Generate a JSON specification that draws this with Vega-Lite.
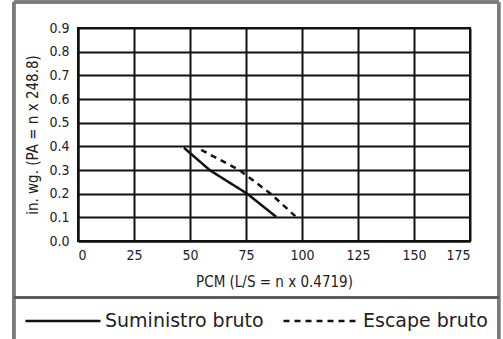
{
  "$schema": "https://vega.github.io/schema/vega-lite/v6.json",
  "width": 392,
  "height": 213,
  "autosize": {"type": "none"},
  "padding": {"left": 78, "top": 28, "right": 33, "bottom": 98},
  "background": "white",
  "config": {
    "view": {"stroke": "#111", "strokeWidth": 2},
    "font": "DejaVu Sans Condensed",
    "axis": {
      "titleFont": "DejaVu Sans Condensed", "titleFontSize": 15, "titleFontWeight": "normal", "titleColor": "#222",
      "labelFont": "DejaVu Sans Condensed", "labelFontSize": 14, "labelColor": "#222",
      "labelOverlap": false,
      "ticks": false, "domainColor": "#111", "domainWidth": 2,
      "grid": true, "gridColor": "#111", "gridWidth": 2, "gridOpacity": 1
    },
    "axisX": {"titlePadding": 12, "labelPadding": 7},
    "axisY": {"titlePadding": 8, "labelPadding": 9}
  },
  "data": {
    "values": [
      {"series": "Suministro bruto", "pcm": 47.3, "inwg": 0.394},
      {"series": "Suministro bruto", "pcm": 59, "inwg": 0.298},
      {"series": "Suministro bruto", "pcm": 75.5, "inwg": 0.2},
      {"series": "Suministro bruto", "pcm": 88.5, "inwg": 0.102},
      {"series": "Escape bruto", "pcm": 55, "inwg": 0.385},
      {"series": "Escape bruto", "pcm": 72, "inwg": 0.3},
      {"series": "Escape bruto", "pcm": 86, "inwg": 0.2},
      {"series": "Escape bruto", "pcm": 97, "inwg": 0.105}
    ]
  },
  "layer": [
    {
      "mark": {"type": "line", "color": "#111", "strokeWidth": 2.5},
      "encoding": {
        "x": {
          "field": "pcm", "type": "quantitative",
          "scale": {"domain": [0, 175], "nice": false},
          "axis": {"values": [0, 25, 50, 75, 100, 125, 150, 175], "title": "PCM (L/S = n x 0.4719)"}
        },
        "y": {
          "field": "inwg", "type": "quantitative",
          "scale": {"domain": [0, 0.9], "nice": false},
          "axis": {"values": [0, 0.1, 0.2, 0.3, 0.4, 0.5, 0.6, 0.7, 0.8, 0.9], "format": ".1f", "title": "in. wg. (PA = n x 248.8)"}
        },
        "strokeDash": {
          "field": "series", "type": "nominal",
          "scale": {"domain": ["Suministro bruto", "Escape bruto"], "range": [[1, 0], [6, 5]]},
          "legend": {
            "orient": "none", "legendX": -54, "legendY": 254,
            "direction": "horizontal",
            "title": null,
            "symbolType": "stroke", "symbolSize": 5625, "symbolStrokeWidth": 2.5, "symbolStrokeColor": "#111",
            "labelFont": "DejaVu Sans", "labelFontSize": 19, "labelColor": "#222", "labelLimit": 400, "labelOffset": 3,
            "columnPadding": 14
          }
        }
      }
    },
    {
      "mark": {"type": "rule", "stroke": "#7a7a7a", "strokeWidth": 2.5},
      "encoding": {
        "x": {"datum": -28.6, "type": "quantitative",
          "axis": {"values": [0, 25, 50, 75, 100, 125, 150, 175], "title": "PCM (L/S = n x 0.4719)"}},
        "y": {"datum": 1.01, "type": "quantitative",
          "axis": {"values": [0, 0.1, 0.2, 0.3, 0.4, 0.5, 0.6, 0.7, 0.8, 0.9], "format": ".1f", "title": "in. wg. (PA = n x 248.8)"}},
        "y2": {"datum": -0.45}
      }
    },
    {
      "mark": {"type": "rule", "stroke": "#7a7a7a", "strokeWidth": 2.5},
      "encoding": {
        "x": {"datum": 187.9, "type": "quantitative",
          "axis": {"values": [0, 25, 50, 75, 100, 125, 150, 175], "title": "PCM (L/S = n x 0.4719)"}},
        "y": {"datum": 1.01, "type": "quantitative",
          "axis": {"values": [0, 0.1, 0.2, 0.3, 0.4, 0.5, 0.6, 0.7, 0.8, 0.9], "format": ".1f", "title": "in. wg. (PA = n x 248.8)"}},
        "y2": {"datum": -0.45}
      }
    },
    {
      "mark": {"type": "rule", "stroke": "#7a7a7a", "strokeWidth": 2.5},
      "encoding": {
        "x": {"datum": -28.6, "type": "quantitative",
          "axis": {"values": [0, 25, 50, 75, 100, 125, 150, 175], "title": "PCM (L/S = n x 0.4719)"}},
        "x2": {"datum": 187.9},
        "y": {"datum": 1.01, "type": "quantitative",
          "axis": {"values": [0, 0.1, 0.2, 0.3, 0.4, 0.5, 0.6, 0.7, 0.8, 0.9], "format": ".1f", "title": "in. wg. (PA = n x 248.8)"}}
      }
    },
    {
      "mark": {"type": "rule", "stroke": "#555", "strokeWidth": 1.5},
      "encoding": {
        "x": {"datum": -28.6, "type": "quantitative",
          "axis": {"values": [0, 25, 50, 75, 100, 125, 150, 175], "title": "PCM (L/S = n x 0.4719)"}},
        "x2": {"datum": 187.9},
        "y": {"datum": -0.2387, "type": "quantitative",
          "axis": {"values": [0, 0.1, 0.2, 0.3, 0.4, 0.5, 0.6, 0.7, 0.8, 0.9], "format": ".1f", "title": "in. wg. (PA = n x 248.8)"}}
      }
    }
  ]
}
